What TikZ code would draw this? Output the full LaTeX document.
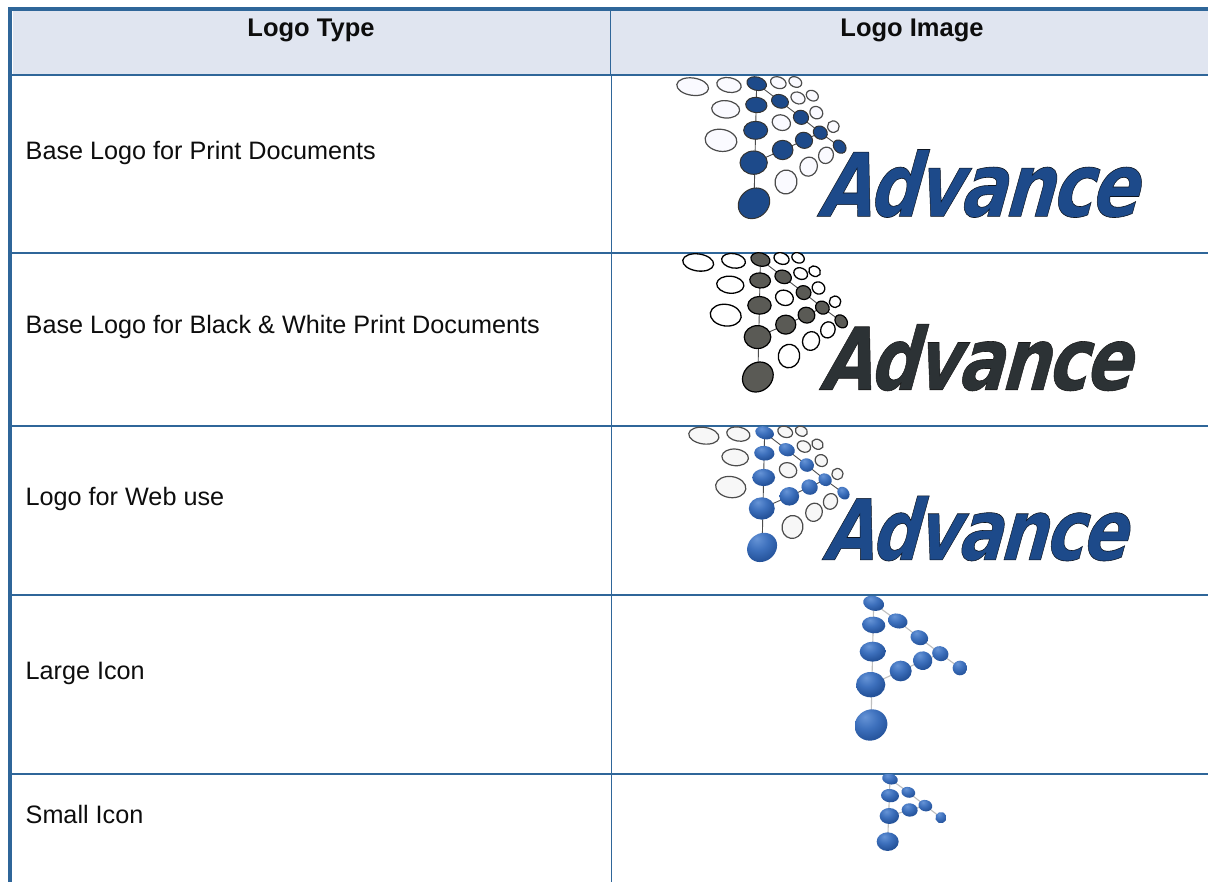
\documentclass[tikz,border=0pt]{standalone}
\usepackage{fontspec}
\setmainfont{Liberation Sans}
\newfontfamily\logofont[LetterSpace=-4]{DejaVu Sans}
\definecolor{rule}{HTML}{2F6699}
\definecolor{headfill}{HTML}{E0E5F0}
\definecolor{logoblue}{HTML}{1D4A8A}
\definecolor{logogrey}{HTML}{2C3235}
\definecolor{dotgrey}{HTML}{5A5A55}
\pgfdeclareradialshading{ballblue}{\pgfpoint{-8bp}{14bp}}{rgb(0bp)=(.40,.58,.84);rgb(16bp)=(.24,.44,.74);rgb(32bp)=(.14,.32,.60);rgb(50bp)=(.16,.32,.58);rgb(100bp)=(.16,.32,.58)}
\tikzset{
  cell/.style={anchor=base west,inner sep=0pt,font=\fontsize{25.2}{28}\selectfont,text=black!95},
  headcell/.style={anchor=base,inner sep=0pt,font=\fontsize{25.5}{28}\selectfont\bfseries,text=black!95},
  printdot/.style={draw=black!80,line width=1pt,fill=logoblue},
  printhollow/.style={draw=black!70,line width=1.2pt,fill=blue!2!white},
  bwdot/.style={draw=black,line width=1.2pt,fill=dotgrey},
  bwhollow/.style={draw=black,line width=1.3pt,fill=white},
  webdot/.style={shading=ballblue},
  webhollow/.style={draw=black!70,line width=1.2pt,fill=black!3},
  icondot/.style={shading=ballblue},
  linkline/.style={draw=black!70,line width=.9pt},
  iconline/.style={draw=black!25,line width=1.1pt},
}
% cx cy rx ry rot style
\newcommand\myoval[6]{\path[#6,shift={(#1,#2)},rotate=#5] (0,0) ellipse ({#3} and {#4});}
\newcommand\drawlogo[9]{%
  % ox oy sx sy dot hollow fill strokeRGB name
  \begin{scope}[shift={(#1,#2)},x=#3*0.3333pt,y=-#4*0.3333pt]
    \draw[linkline] (290,41) -- (282,400);
    \draw[linkline] (290,41) -- (360,94) -- (423,142) -- (481,188) -- (539,230);
    \draw[linkline] (281,278) -- (368,240) -- (432,211) -- (481,188);
    \foreach \a/\b/\c/\d/\e in {98/50/48/26/-8,207/45/37/22/-10,197/118/42/26/-5,183/211/48/33/-8,355/38/24/17/-20,406/36/20/15/-25,414/84/22/17/-25,457/77/19/15/-30,469/128/20/18/-35,364/158/28/23/-20,520/170/18/17/-40,498/256/22/25/-20,446/290/26/29/-20,378/336/33/36/-10}
      {\myoval{\a}{\b}{\c}{\d}{\e}{#6}}
    \foreach \a/\b/\c/\d/\e in {290/41/30/20/-15,289/105/32/23/-5,360/94/26/20/-20,423/142/23/21/-20,287/181/36/27/0,481/188/22/19/-35,432/211/26/24/-20,368/240/31/29/0,539/230/22/17/-50,281/278/41/35/0,282/400/50/43/40}
      {\myoval{\a}{\b}{\c}{\d}{\e}{#5}}
    \node[inner sep=0pt,anchor=base west,xscale=#3*0.80,yscale=#4,xslant=.15,text=#7,font=\logofont\fontsize{88}{88}\selectfont\bfseries\itshape] (#9) at (484,439)
      {\special{pdf:code 2 Tr 0.6 w #8 RG}Advance\special{pdf:code 0 Tr}};
  \end{scope}}
\begin{document}
\begin{tikzpicture}[x=1pt,y=-1pt]
\useasboundingbox (0,0) rectangle (1208,882);
\fill[white] (0,0) rectangle (1208,882);
\fill[headfill] (13,11) rectangle (1208,74);
% rules
\fill[rule] (8,7) rectangle (1208,11);
\fill[rule] (8,7) rectangle (12,882);
\foreach \yy in {74,252,425.5,594,772.8} {\fill[rule] (12,\yy) rectangle (1208,\yy+1.9);}
\fill[rule] (610.2,11) rectangle (611.4,74);
\fill[rule] (610.7,76) rectangle (612.2,882);
% text
\node[headcell] (h1) at (311,37) {Logo Type};
\node[headcell] (h2) at (912,37) {Logo Image};
\node[cell] (r1) at (25.5,159.5) {Base Logo for Print Documents};
\node[cell] (r2) at (25.5,334) {Base Logo for Black \& White Print Documents};
\node[cell] (r3) at (25.5,505) {Logo for Web use};
\node[cell] (r4) at (25.5,679) {Large Icon};
\node[cell] (r5) at (25.5,823) {Small Icon};
% logos
\drawlogo{660}{70}{1}{1}{printdot}{printhollow}{logoblue}{0.05 0.08 0.12}{lg1}
\drawlogo{666.4}{246.1}{.973}{.982}{bwdot}{bwhollow}{logogrey}{0.1 0.1 0.1}{lg2}
\drawlogo{672.8}{419.7}{.95}{.958}{webdot}{webhollow}{logoblue}{0.05 0.08 0.12}{lg3}
% large icon
\begin{scope}[shift={(830,590)},x=0.3333pt,y=-0.3333pt]
  \clip (75,18) rectangle (411,456);
  \draw[iconline] (131,40) -- (123,405);
  \draw[iconline] (131,40) -- (203,93) -- (268,143) -- (331,191) -- (390,234);
  \draw[iconline] (122,284) -- (212,243) -- (278,212) -- (331,191);
  \foreach \a/\b/\c/\d/\e in {131/40/32/22/-15,131/105/35/25/-5,128/185/39/30/0,122/284/44/38/0,123/405/50/46/30,203/93/30/22/-15,268/143/27/22/-20,331/191/25/22/-25,390/234/22/22/-25,278/212/29/28/-10,212/243/33/31/0}
    {\myoval{\a}{\b}{\c}{\d}{\e}{icondot}}
\end{scope}
% small icon
\begin{scope}[shift={(830,590)},x=0.3333pt,y=-0.3333pt]
  \clip (130,554) rectangle (351,783);
  \draw[iconline] (180,567) -- (173,755);
  \draw[iconline] (180,567) -- (235,607) -- (286,647) -- (333,683);
  \draw[iconline] (178,678) -- (239,660) -- (286,647);
  \foreach \a/\b/\c/\d/\e in {180/567/24/16/-15,180/617/27/20/-5,178/678/29/24/0,173/755/33/28/0,235/607/21/16/-15,286/647/21/17/-15,333/683/17/17/-25,239/660/24/20/-5}
    {\myoval{\a}{\b}{\c}{\d}{\e}{icondot}}
\end{scope}
\end{tikzpicture}
\end{document}
